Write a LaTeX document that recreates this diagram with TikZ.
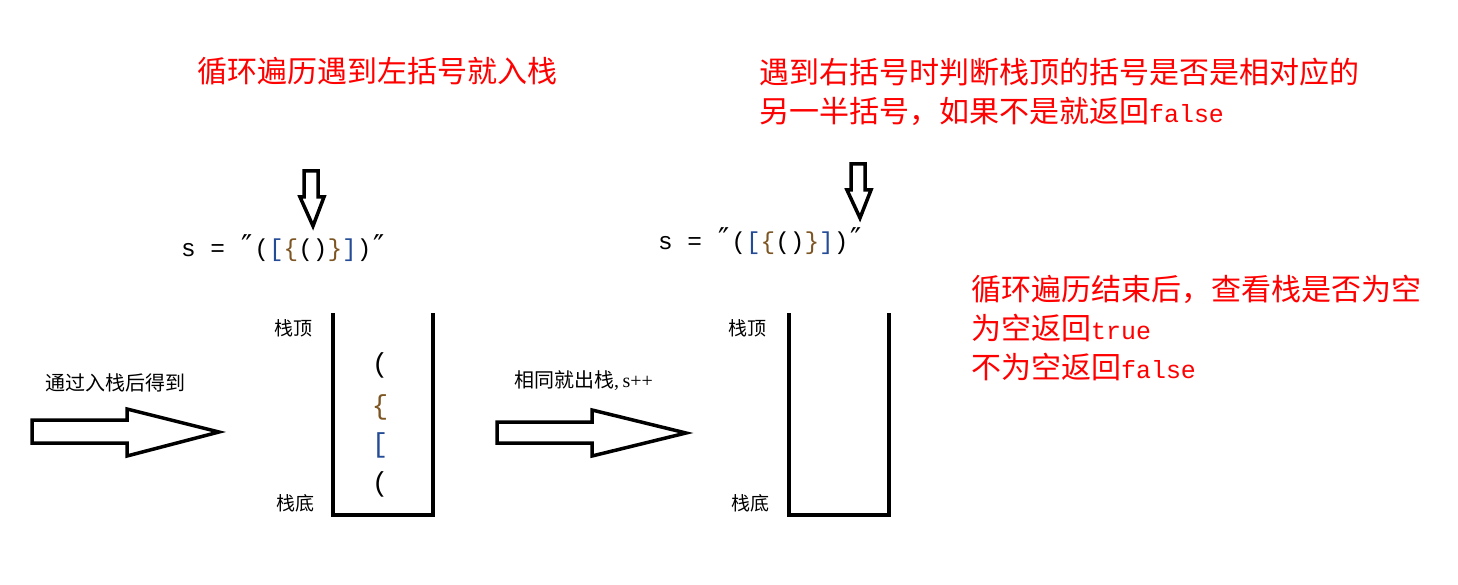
\documentclass[tikz,border=0pt]{standalone}
\usepackage{fontspec}
\setmainfont{Liberation Serif}
\newfontfamily\cjk{Noto Sans CJK SC}
\newfontfamily\mono[Scale=0.83]{Liberation Mono}
\newfontfamily\dvs{DejaVu Sans}
\definecolor{bblue}{RGB}{35,75,150}
\definecolor{bbrown}{RGB}{125,85,35}
\definecolor{tred}{RGB}{255,0,0}
\newcommand\dq{\makebox[14.6pt]{\dvs\fontsize{30}{30}\selectfont\char"2033}}
\tikzset{
  blockarrow/.style={draw=black, line width=3.5pt, fill=white, line join=miter},
  stackbox/.style={draw=black, line width=4pt},
  redline/.style={text=tred, inner sep=0pt, anchor=base west, font=\cjk\fontsize{30}{39}\selectfont},
  stacklabel/.style={inner sep=0pt, anchor=base west, font=\cjk\fontsize{19}{19}\selectfont},
  arrowlabel/.style={inner sep=0pt, anchor=base west, font=\fontsize{20}{20}\selectfont},
  strnode/.style={inner sep=0pt, anchor=base west, font=\mono\fontsize{29.4}{30}\selectfont},
  stackitem/.style={inner sep=0pt, anchor=center, font=\mono\fontsize{33}{33}\selectfont}
}
\begin{document}
\begin{tikzpicture}[x=1pt,y=-1pt]
\useasboundingbox[fill=white] (0,0) rectangle (1458,585);

% titles
\node[redline] (t1) at (197,83) {循环遍历遇到左括号就入栈};
\node[redline] (t2a) at (759,83.4) {遇到右括号时判断栈顶的括号是否是相对应的};
\node[redline] (t2b) at (759,122.4) {另一半括号，如果不是就返回{\mono false}};

% result text
\node[redline] (r1) at (971,300.4) {循环遍历结束后，查看栈是否为空};
\node[redline] (r2) at (971,339.4) {为空返回{\mono true}};
\node[redline] (r3) at (971,378.4) {不为空返回{\mono false}};

% strings
\node[strnode] (s1) at (181,257) {s = \dq(\textcolor{bblue}{[}\textcolor{bbrown}{\{}()\textcolor{bbrown}{\}}\textcolor{bblue}{]})\dq};
\node[strnode] (s2) at (658,250) {s = \dq(\textcolor{bblue}{[}\textcolor{bbrown}{\{}()\textcolor{bbrown}{\}}\textcolor{bblue}{]})\dq};

% down arrows
\draw[blockarrow] (304,171) -- (318,171) -- (318,197) -- (324,197) -- (313,226) -- (300,197) -- (304,197) -- cycle;
\draw[blockarrow] (851,164) -- (865,164) -- (865,190) -- (871,190) -- (860,218) -- (847,190) -- (851,190) -- cycle;

% stacks
\draw[stackbox] (333,313) -- (333,515) -- (433,515) -- (433,313);
\draw[stackbox] (789,313) -- (789,515) -- (889,515) -- (889,313);

\node[stacklabel] (top1) at (274,335) {栈顶};
\node[stacklabel] (bot1) at (276,510) {栈底};
\node[stacklabel] (top2) at (728,335) {栈顶};
\node[stacklabel] (bot2) at (731,510) {栈底};

\node[stackitem] (i1) at (380,365) {(};
\node[stackitem, text=bbrown] (i2) at (380,407) {\{};
\node[stackitem, text=bblue] (i3) at (380,445) {[};
\node[stackitem] (i4) at (380,484) {(};

% right arrows
\draw[blockarrow] (32,420) -- (127,420) -- (127,409) -- (219,432) -- (127,456) -- (127,443) -- (32,443) -- cycle;
\draw[blockarrow] (497,422) -- (592,422) -- (592,410) -- (686,433) -- (592,456) -- (592,443) -- (497,443) -- cycle;

\node[arrowlabel] (a1) at (45,390.6) {\cjk 通过入栈后得到};
\node[arrowlabel] (a2) at (514,387.6) {{\cjk 相同就出栈},\,s++};
\end{tikzpicture}
\end{document}
